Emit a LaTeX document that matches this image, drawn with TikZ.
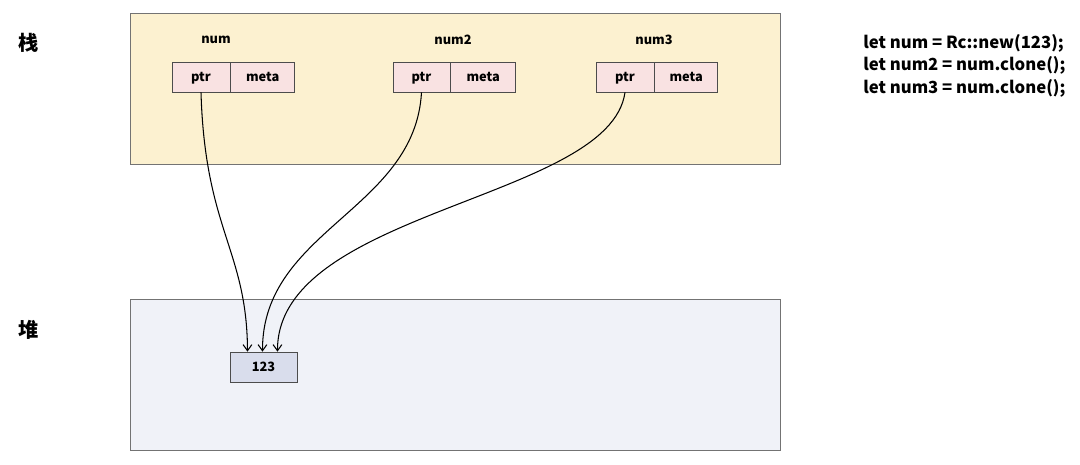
\documentclass[tikz,border=0pt]{standalone}
\usepackage{fontspec}
\setmainfont{Noto Sans CJK SC}
\usetikzlibrary{positioning,arrows.meta}
\definecolor{stackfill}{RGB}{252,241,208}
\definecolor{heapfill}{RGB}{240,242,248}
\definecolor{cellfill}{RGB}{249,226,226}
\definecolor{valfill}{RGB}{217,221,236}
\begin{document}
\begin{tikzpicture}[x=0.02cm,y=-0.02cm,
	cell/.style={draw=black!70,fill=cellfill,inner sep=0,minimum height=0.6cm,text height=0.75em,text depth=0.2em,font=\fontsize{7.3}{9}\selectfont\bfseries},
	lbl/.style={font=\fontsize{7.3}{9}\selectfont\bfseries},
	area/.style={draw=black!55,line width=0.5pt},
	link/.style={-{Straight Barb[length=3.5pt,width=5pt]},line width=0.6pt}]
	\useasboundingbox (0,0) rectangle (1080,464);
	\fill[white] (0,0) rectangle (1080,464);
	\draw[area,fill=stackfill] (130,13) rectangle (780,164);
	\draw[area,fill=heapfill] (130,299) rectangle (780,450);
	\node[font=\fontsize{11.5}{13}\selectfont\bfseries] (stack) at (29,43) {栈};
	\node[font=\fontsize{11.5}{13}\selectfont\bfseries] (heap) at (29,330) {堆};
	\node[lbl] (n1) at (216,40) {num};
	\node[lbl] (n2) at (453,40) {num2};
	\node[lbl] (n3) at (654,40) {num3};
	\node[cell,minimum width=1.16cm] (ptr1) at (201,77) {ptr};
	\node[cell,minimum width=1.28cm,right=0pt of ptr1] (meta1) {meta};
	\node[cell,minimum width=1.14cm] (ptr2) at (421.5,77) {ptr};
	\node[cell,minimum width=1.30cm,right=0pt of ptr2] (meta2) {meta};
	\node[cell,minimum width=1.16cm] (ptr3) at (625,77) {ptr};
	\node[cell,minimum width=1.26cm,right=0pt of ptr3] (meta3) {meta};
	\node[cell,fill=valfill,minimum width=1.34cm] (val) at (263.5,367) {123};
	\node[anchor=north west,align=left,font=\fontsize{9.5}{12.8}\selectfont\bfseries,inner sep=0] (code) at (863,34) {let num = Rc::new(123);\\let num2 = num.clone();\\let num3 = num.clone();};
	\draw [link] (ptr1.south) .. controls (205,230) and (247,250) .. ([xshift=-0.32cm]val.north);
	\draw [link] (ptr2.south) .. controls (415,210) and (262,230) .. ([xshift=-0.02cm]val.north);
	\draw [link] (ptr3.south) .. controls (610,200) and (277,210) .. ([xshift=0.28cm]val.north);
\end{tikzpicture}
\end{document}
